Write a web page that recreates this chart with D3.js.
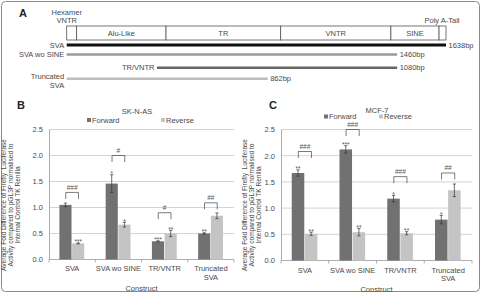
<!DOCTYPE html>
<html>
<head>
<meta charset="utf-8">
<script src="https://cdn.jsdelivr.net/npm/d3@7"></script>
<style>
  body { margin: 0; background: #fff; }
  svg { display: block; font-family: "Liberation Sans", Arial, sans-serif; }
</style>
</head>
<body>
<svg id="fig" width="483" height="294"></svg>
<script>
// ---- panel A: schematic (positions along the element, in bp) ----
var segmentEdges = [0, 43, 429, 924, 1400, 1608, 1638];
var segmentNames = ["", "Alu-Like", "TR", "VNTR", "SINE", ""];
var constructNames = [["SVA"], ["SVA wo SINE"], ["TR/VNTR"], ["Truncated", "SVA"]];
var constructStart = [0, 0, 390, 0];
var constructEnd = [1638, 1427, 1427, 868];
var constructLength = ["1638bp", "1460bp", "1080bp", "862bp"];

// ---- panels B and C: luciferase assay ----
var categories = ["SVA", "SVA wo SINE", "TR/VNTR", "Truncated SVA"];
var categoryLines = [["SVA"], ["SVA wo SINE"], ["TR/VNTR"], ["Truncated", "SVA"]];
var yTicks = [0, 0.5, 1.0, 1.5, 2.0, 2.5];

var sknasForward = [1.05, 1.46, 0.35, 0.50];
var sknasForwardErr = [0.035, 0.17, 0.01, 0.015];
var sknasReverse = [0.31, 0.67, 0.50, 0.84];
var sknasReverseErr = [0.01, 0.045, 0.06, 0.055];
var sknasForwardSig = ["", "*", "***", "**"];
var sknasReverseSig = ["***", "*", "**", ""];
var sknasHash = ["###", "#", "#", "##"];
var sknasBracket = [1.29, 2.0, 0.90, 1.09];

var mcfForward = [1.67, 2.12, 1.18, 0.78];
var mcfForwardErr = [0.06, 0.07, 0.06, 0.08];
var mcfReverse = [0.51, 0.54, 0.52, 1.34];
var mcfReverseErr = [0.03, 0.07, 0.03, 0.12];
var mcfForwardSig = ["**", "***", "*", "*"];
var mcfReverseSig = ["**", "**", "**", ""];
var mcfHash = ["###", "###", "###", "##"];
var mcfBracket = [2.08, 2.5, 1.6, 1.67];

var fwdColor = "#717171", revColor = "#c4c4c4", textColor = "#4a4a4a";

var svg = d3.select("#fig");

// outer frame
svg.append("rect")
    .attr("x", 1.5).attr("y", 1.5)
    .attr("width", 478).attr("height", 290)
    .attr("rx", 4)
    .attr("fill", "none")
    .attr("stroke", "#8a8a8a");

// panel letters
[["A", 19, 17], ["B", 17, 109], ["C", 269, 109]].forEach(function(p) {
  svg.append("text").attr("x", p[1]).attr("y", p[2])
    .attr("font-size", 11).attr("font-weight", "bold").attr("fill", "#222")
    .text(p[0]);
});

// ---------- panel A ----------
var bp = d3.scaleLinear().domain([0, 1638]).range([66.7, 446]);
var gA = svg.append("g");

gA.selectAll(".seg")
  .data(segmentNames)
  .enter()
  .append("rect")
  .attr("x", function(d, i) { return bp(segmentEdges[i]); })
  .attr("y", 26)
  .attr("width", function(d, i) { return bp(segmentEdges[i + 1]) - bp(segmentEdges[i]); })
  .attr("height", 14)
  .attr("fill", "#fff")
  .attr("stroke", "#555")
  .attr("stroke-width", 0.8);

gA.selectAll(".segLabel")
  .data(segmentNames)
  .enter()
  .append("text")
  .attr("x", function(d, i) { return (bp(segmentEdges[i]) + bp(segmentEdges[i + 1])) / 2; })
  .attr("y", 33.5)
  .attr("text-anchor", "middle")
  .attr("dominant-baseline", "central")
  .attr("font-size", 7.5)
  .attr("fill", textColor)
  .text(function(d) { return d; });

gA.append("text").attr("x", bp(0)).attr("y", 15).attr("text-anchor", "middle")
  .attr("font-size", 7.5).attr("fill", textColor).text("Hexamer");
gA.append("text").attr("x", bp(0)).attr("y", 22.5).attr("text-anchor", "middle")
  .attr("font-size", 7.5).attr("fill", textColor).text("VNTR");
gA.append("text").attr("x", 442).attr("y", 22.5).attr("text-anchor", "middle")
  .attr("font-size", 7.5).attr("fill", textColor).text("Poly A-Tail");

var lineY = [45, 54.5, 67.7, 78.7];
var lineColor = ["#111", "#9a9a9a", "#666", "#bdbdbd"];
var lineWidth = [3, 2.5, 2.5, 2.5];

gA.selectAll(".construct")
  .data(constructStart)
  .enter()
  .append("line")
  .attr("x1", function(d) { return bp(d); })
  .attr("x2", function(d, i) { return bp(constructEnd[i]); })
  .attr("y1", function(d, i) { return lineY[i]; })
  .attr("y2", function(d, i) { return lineY[i]; })
  .attr("stroke", function(d, i) { return lineColor[i]; })
  .attr("stroke-width", function(d, i) { return lineWidth[i]; });

gA.selectAll(".lenLabel")
  .data(constructLength)
  .enter()
  .append("text")
  .attr("x", function(d, i) { return bp(constructEnd[i]) + 2.5; })
  .attr("y", function(d, i) { return lineY[i]; })
  .attr("dominant-baseline", "central")
  .attr("font-size", 7.5)
  .attr("fill", textColor)
  .text(function(d) { return d; });

constructNames.forEach(function(lines, i) {
  var x = bp(constructStart[i]) - 2.5;
  var y0 = lines.length > 1 ? lineY[i] - 2.7 : lineY[i];
  lines.forEach(function(s, j) {
    gA.append("text")
      .attr("x", x)
      .attr("y", y0 + j * 9)
      .attr("text-anchor", "end")
      .attr("dominant-baseline", "central")
      .attr("font-size", 7.5)
      .attr("fill", textColor)
      .text(s);
  });
});

// ---------- panels B, C ----------
function drawPanel(cfg) {
  var g = svg.append("g");
  var x = d3.scaleBand().domain(categories).range(cfg.xRange)
      .paddingInner(0.45).paddingOuter(0.225);
  var sub = d3.scaleBand().domain(["f", "r"]).range([0, x.bandwidth()]);
  var y = d3.scaleLinear().domain([0, 2.5]).range(cfg.yRange);

  // gridlines
  g.selectAll(".grid")
    .data(yTicks.slice(1))
    .enter()
    .append("line")
    .attr("x1", cfg.xRange[0]).attr("x2", cfg.xRange[1])
    .attr("y1", function(d) { return y(d); })
    .attr("y2", function(d) { return y(d); })
    .attr("stroke", "#c8c8c8")
    .attr("stroke-width", 0.8);

  // y axis
  var yAxis = g.append("g")
    .attr("transform", "translate(" + cfg.xRange[0] + ",0)")
    .call(d3.axisLeft(y).tickValues(yTicks).tickFormat(d3.format(".1f")).tickSize(0).tickPadding(6));
  yAxis.select(".domain").attr("stroke", "#999").attr("stroke-width", 0.8);
  yAxis.selectAll("text").attr("font-size", 7.5).attr("fill", textColor)
    .attr("font-family", "Liberation Sans, Arial, sans-serif");

  // x axis line and ticks at band edges
  var x0 = cfg.xRange[0];
  g.append("line")
    .attr("x1", x0).attr("x2", cfg.xRange[1])
    .attr("y1", y(0)).attr("y2", y(0))
    .attr("stroke", "#999").attr("stroke-width", 0.8);
  g.selectAll(".xtick")
    .data(d3.range(categories.length + 1))
    .enter()
    .append("line")
    .attr("x1", function(i) { return x0 + i * (cfg.xRange[1] - x0) / categories.length; })
    .attr("x2", function(i) { return x0 + i * (cfg.xRange[1] - x0) / categories.length; })
    .attr("y1", y(0)).attr("y2", y(0) + 3)
    .attr("stroke", "#999").attr("stroke-width", 0.8);

  // category labels
  categoryLines.forEach(function(lines, i) {
    lines.forEach(function(s, j) {
      g.append("text")
        .attr("x", x(categories[i]) + x.bandwidth() / 2)
        .attr("y", cfg.catY + j * 8.5)
        .attr("text-anchor", "middle")
        .attr("dominant-baseline", "central")
        .attr("font-size", 7.5)
        .attr("fill", textColor)
        .text(s);
    });
  });

  g.append("text")
    .attr("x", (cfg.xRange[0] + cfg.xRange[1]) / 2)
    .attr("y", cfg.catY + 19.5)
    .attr("text-anchor", "middle")
    .attr("dominant-baseline", "central")
    .attr("font-size", 7.5)
    .attr("fill", textColor)
    .text("Construct");

  // bars
  var series = [
    { key: "f", vals: cfg.fwd, err: cfg.fwdErr, sig: cfg.fwdSig, color: fwdColor },
    { key: "r", vals: cfg.rev, err: cfg.revErr, sig: cfg.revSig, color: revColor }
  ];
  series.forEach(function(s) {
    g.selectAll(".bar" + s.key)
      .data(s.vals)
      .enter()
      .append("rect")
      .attr("x", function(d, i) { return x(categories[i]) + sub(s.key); })
      .attr("y", function(d) { return y(d); })
      .attr("width", sub.bandwidth() - 0.6)
      .attr("height", function(d) { return y(0) - y(d); })
      .attr("fill", s.color);

    var cx = function(i) { return x(categories[i]) + sub(s.key) + sub.bandwidth() / 2 - 0.3; };
    var eb = g.selectAll(".err" + s.key).data(s.vals).enter().append("g")
      .attr("stroke", "#333").attr("stroke-width", 0.7);
    eb.append("line")
      .attr("x1", function(d, i) { return cx(i); }).attr("x2", function(d, i) { return cx(i); })
      .attr("y1", function(d, i) { return y(d + s.err[i]); })
      .attr("y2", function(d, i) { return y(d - s.err[i]); });
    eb.append("line")
      .attr("x1", function(d, i) { return cx(i) - 1.6; }).attr("x2", function(d, i) { return cx(i) + 1.6; })
      .attr("y1", function(d, i) { return y(d + s.err[i]); })
      .attr("y2", function(d, i) { return y(d + s.err[i]); });
    eb.append("line")
      .attr("x1", function(d, i) { return cx(i) - 1.6; }).attr("x2", function(d, i) { return cx(i) + 1.6; })
      .attr("y1", function(d, i) { return y(d - s.err[i]); })
      .attr("y2", function(d, i) { return y(d - s.err[i]); });

    g.selectAll(".sig" + s.key)
      .data(s.sig)
      .enter()
      .append("text")
      .attr("x", function(d, i) { return cx(i); })
      .attr("y", function(d, i) { return y(s.vals[i] + s.err[i]) + 1.5; })
      .attr("text-anchor", "middle")
      .attr("font-size", 6.5)
      .attr("fill", "#555")
      .text(function(d) { return d; });
  });

  // significance brackets between forward and reverse
  var bx1 = function(i) { return x(categories[i]) + sub("f") + sub.bandwidth() / 2; };
  var bx2 = function(i) { return x(categories[i]) + sub("r") + sub.bandwidth() / 2; };
  g.selectAll(".bracket")
    .data(cfg.bracket)
    .enter()
    .append("path")
    .attr("d", function(d, i) {
      var top = y(d);
      return "M" + bx1(i) + "," + (top + 6.5) + "V" + top + "H" + bx2(i) + "V" + (top + 6.5);
    })
    .attr("fill", "none")
    .attr("stroke", "#444")
    .attr("stroke-width", 0.7);
  g.selectAll(".hash")
    .data(cfg.hash)
    .enter()
    .append("text")
    .attr("x", function(d, i) { return (bx1(i) + bx2(i)) / 2; })
    .attr("y", function(d, i) { return y(cfg.bracket[i]) - 2.5; })
    .attr("text-anchor", "middle")
    .attr("font-size", 6.5)
    .attr("fill", "#555")
    .text(function(d) { return d; });

  // title and legend
  g.append("text").attr("x", cfg.titleX).attr("y", cfg.titleY)
    .attr("text-anchor", "middle").attr("dominant-baseline", "central")
    .attr("font-size", 7.5).attr("fill", textColor).text(cfg.title);
  [["Forward", fwdColor, cfg.legX[0]], ["Reverse", revColor, cfg.legX[1]]].forEach(function(l) {
    g.append("rect").attr("x", l[2]).attr("y", cfg.legY - 2).attr("width", 4).attr("height", 4).attr("fill", l[1]);
    g.append("text").attr("x", l[2] + 5).attr("y", cfg.legY)
      .attr("dominant-baseline", "central").attr("font-size", 7.5).attr("fill", textColor).text(l[0]);
  });

  // y axis title
  var yt = ["Average Fold Difference of Firefly  Luciferase",
            "Activity compared to pGL3P normalised to",
            "Internal Control TK Renilla"];
  yt.forEach(function(s, j) {
    g.append("text")
      .attr("transform", "translate(" + (cfg.ytX + j * 6.8) + ",205) rotate(-90)")
      .attr("text-anchor", "middle")
      .attr("dominant-baseline", "central")
      .attr("font-size", 6.6)
      .attr("fill", textColor)
      .style("white-space", "pre")
      .text(s);
  });
}

drawPanel({
  xRange: [49, 234], yRange: [259.5, 129.5], catY: 268.5,
  fwd: sknasForward, fwdErr: sknasForwardErr, fwdSig: sknasForwardSig,
  rev: sknasReverse, revErr: sknasReverseErr, revSig: sknasReverseSig,
  hash: sknasHash, bracket: sknasBracket,
  title: "SK-N-AS", titleX: 137, titleY: 111, legX: [87, 161], legY: 120,
  ytX: 3.8
});

drawPanel({
  xRange: [281, 472], yRange: [260.5, 129.5], catY: 270,
  fwd: mcfForward, fwdErr: mcfForwardErr, fwdSig: mcfForwardSig,
  rev: mcfReverse, revErr: mcfReverseErr, revSig: mcfReverseSig,
  hash: mcfHash, bracket: mcfBracket,
  title: "MCF-7", titleX: 377, titleY: 110, legX: [324, 379], legY: 116.5,
  ytX: 244.5
});
</script>
</body>
</html>
